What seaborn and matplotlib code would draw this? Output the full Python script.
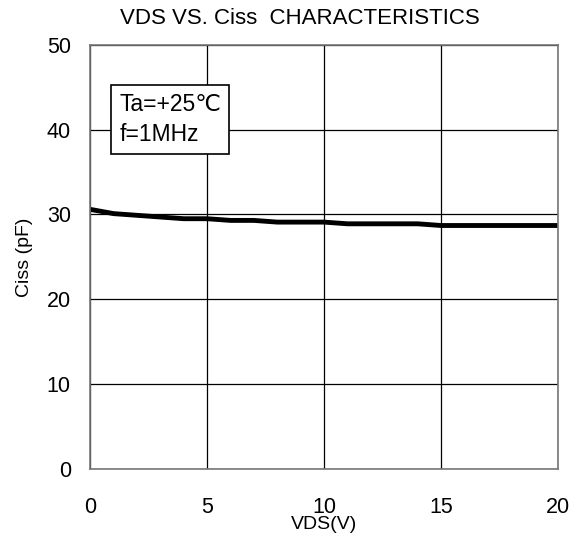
import numpy as np
import pandas as pd
import seaborn as sns
import matplotlib
matplotlib.use("Agg")
import matplotlib.pyplot as plt

# values
vds = [0, 1, 2, 3, 4, 5, 6, 7, 8, 9, 10, 11, 12, 13, 14, 15, 16, 17, 18, 19, 20]
ciss = [30.6, 30.1, 29.9, 29.7, 29.5, 29.5, 29.3, 29.3, 29.1, 29.1, 29.1,
        28.9, 28.9, 28.9, 28.9, 28.7, 28.7, 28.7, 28.7, 28.7, 28.7]
xticks = [0, 5, 10, 15, 20]
yticks = [0, 10, 20, 30, 40, 50]

df = pd.DataFrame({"VDS": vds, "Ciss": ciss})

sns.set_style("white")
plt.rcParams["font.family"] = ["Liberation Sans", "DejaVu Sans"]
plt.rcParams["text.color"] = "black"
plt.rcParams["axes.labelcolor"] = "black"
plt.rcParams["xtick.color"] = "black"
plt.rcParams["ytick.color"] = "black"

fig = plt.figure(figsize=(5.71, 5.46), dpi=100)
ax = fig.add_axes([0.158, 0.141, 0.819, 0.777])

sns.lineplot(data=df, x="VDS", y="Ciss", ax=ax, color="black", linewidth=3.5)

ax.set_xlim(0, 20)
ax.set_ylim(0, 50)
ax.set_xticks(xticks)
ax.set_yticks(yticks)
ax.grid(True, color="black", linewidth=0.9)
for s in ax.spines.values():
    s.set_color("#777777")
    s.set_linewidth(1.2)
ax.tick_params(labelsize=15.5, length=0)
ax.tick_params(axis="x", pad=20)
ax.tick_params(axis="y", pad=14)

ax.set_xlabel("VDS(V)", fontsize=14, labelpad=-1)
ax.set_ylabel("Ciss (pF)", fontsize=14, labelpad=10)
fig.text(300 / 571, 1 - 19 / 546, "VDS VS. Ciss  CHARACTERISTICS",
         fontsize=16, ha="center", va="center")

ax.text(1.25, 44.3, "Ta=+25\u2103\nf=1MHz", fontsize=16.5, va="top", ha="left",
        linespacing=1.38,
        bbox=dict(boxstyle="square,pad=0.35", facecolor="white",
                  edgecolor="black", linewidth=1.2))

fig.savefig("out.png", dpi=100)
